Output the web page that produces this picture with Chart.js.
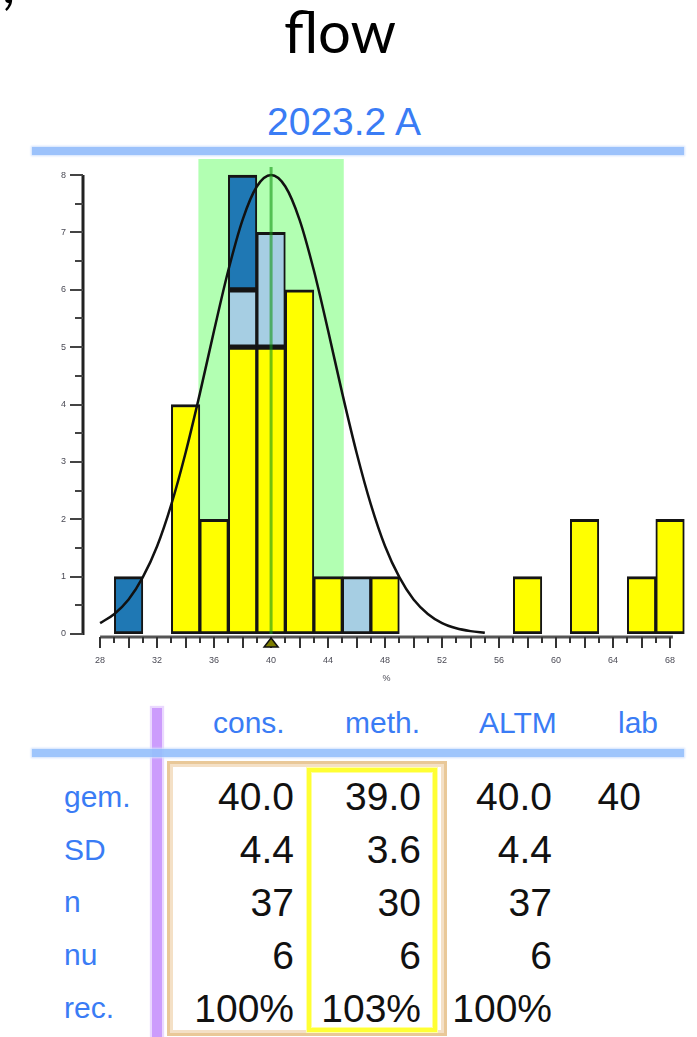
<!DOCTYPE html>
<html>
<head>
<meta charset="utf-8">
<script src="https://cdn.jsdelivr.net/npm/chart.js@4.4.1/dist/chart.umd.min.js"></script>
<style>
  html, body { margin: 0; padding: 0; background: #fff; }
  #page { position: relative; width: 697px; height: 1037px; overflow: hidden; background: #fff;
          font-family: "Liberation Sans", Arial, sans-serif; }
  .t { position: absolute; white-space: nowrap; line-height: 1; }
  .rule { position: absolute; }
  #hist { position: absolute; left: 0; top: 150px; }
</style>
</head>
<body>
<div id="page">
  <div class="rule" style="left:32px;top:147px;width:652px;height:8px;background:#9cc2fb;box-shadow:0 0 2px 1px #cfe0fd;"></div>
  <div class="rule" style="left:152px;top:708px;width:10px;height:329px;background:#cc9cfc;box-shadow:0 0 1px 2px #ead8fe;"></div>
  <div class="rule" style="left:32px;top:749px;width:652px;height:8px;background:rgba(150,192,252,0.92);box-shadow:0 0 2px 1px #cfe0fd;"></div>
  <div class="rule" style="left:167px;top:761px;width:280px;height:275px;box-sizing:border-box;border:3px solid #e9c898;box-shadow:inset 0 0 0 3px #f4e0c6;"></div>
  <div class="rule" style="left:307px;top:768px;width:130px;height:264px;box-sizing:border-box;border:4px solid #ffff33;box-shadow:0 0 0 1px #ffffa8, inset 0 0 0 1px #ffff9c;"></div>
  <canvas id="hist" width="697" height="540"></canvas>
</div>
<script>
// ---- histogram data (bins are 2 % wide, centred on even values) ----
const binCenters      = [30, 34, 36, 38, 40, 42, 44, 46, 48, 58, 62, 66, 68];
const methodCounts    = [0, 4, 2, 5, 5, 6, 1, 0, 1, 1, 2, 1, 2];   // yellow
const otherCounts     = [0, 0, 0, 1, 2, 0, 0, 1, 0, 0, 0, 0, 0];   // light blue
const outlierCounts   = [1, 0, 0, 2, 0, 0, 0, 0, 0, 0, 0, 0, 0];   // dark blue

// ---- fitted normal curve (scaled to the tallest bin) ----
const curveX = [28, 29, 30, 31, 32, 33, 34, 35, 36, 37, 38, 39, 40, 41, 42, 43, 44, 45, 46, 47, 48, 49, 50, 51, 52, 53, 54, 55];
const curveY = [0.19, 0.35, 0.60, 0.99, 1.53, 2.26, 3.16, 4.19, 5.29, 6.34, 7.22, 7.80, 8.00, 7.80, 7.22, 6.34, 5.29, 4.19, 3.16, 2.26, 1.53, 0.99, 0.60, 0.35, 0.19, 0.10, 0.05, 0.02];

// ---- axes ----
const xTickValues = [28, 32, 36, 40, 44, 48, 52, 56, 60, 64, 68];
const yTickValues = [0, 1, 2, 3, 4, 5, 6, 7, 8];

// ---- summary statistics ----
const consensusMean = 40.0;
const labResult = 40;
const bandLow = 34.9;
const bandHigh = 45.1;

// ---- table ----
const colHeaders = ['cons.', 'meth.', 'ALTM', 'lab'];
const rowLabels  = ['gem.', 'SD', 'n', 'nu', 'rec.'];
const consCol    = ['40.0', '4.4', '37', '6', '100%'];
const methCol    = ['39.0', '3.6', '30', '6', '103%'];
const altmCol    = ['40.0', '4.4', '37', '6', '100%'];
const labCol     = ['40', '', '', '', ''];

const BLUE = '#3a7cf5';
const page = document.getElementById('page');

function addText(text, o) {
  const d = document.createElement('div');
  d.className = 't';
  d.textContent = text;
  d.style.fontSize = o.size + 'px';
  d.style.color = o.color || '#111';
  if (o.family) d.style.fontFamily = o.family;
  const ascentRatio = o.ascent || 0.8465;
  d.style.top = (o.baseline - ascentRatio * o.size) + 'px';
  if (o.center !== undefined) {
    d.style.left = '0px'; d.style.width = (2 * o.center) + 'px'; d.style.textAlign = 'center';
  } else if (o.right !== undefined) {
    d.style.right = (697 - o.right) + 'px'; d.style.textAlign = 'right';
  } else {
    d.style.left = o.left + 'px';
  }
  page.appendChild(d);
}

// headings
addText(',', { left: 2, baseline: 3, size: 58, family: 'Lato, "Open Sans", sans-serif', ascent: 0.887, color: '#000' });
addText('flow', { center: 340, baseline: 53, size: 58, family: 'Lato, "Open Sans", sans-serif', ascent: 0.887, color: '#000' });
addText('2023.2 A', { center: 344, baseline: 135, size: 39, color: BLUE });

// table
const headerLefts = [213, 345, 479, 618];
colHeaders.forEach((h, i) => addText(h, { left: headerLefts[i], baseline: 733, size: 30, color: BLUE }));
const labelBaselines = [807, 860, 912, 965, 1018];
const valueBaselines = [810, 863, 916, 969, 1022];
rowLabels.forEach((r, i) => addText(r, { left: 64, baseline: labelBaselines[i], size: 30, color: BLUE }));
const cols = [consCol, methCol, altmCol, labCol];
const colRights = [294, 421, 552, 641];
cols.forEach((col, c) => col.forEach((v, i) => {
  if (v) addText(v, { right: colRights[c], baseline: valueBaselines[i], size: 39, color: '#111' });
}));

// ---- chart ----
const toPoints = (xs, ys) => xs.map((x, i) => ({ x, y: ys[i] === 0 ? null : ys[i] }));

const overlay = {
  id: 'overlay',
  beforeDatasetsDraw(chart) {
    const { ctx, chartArea, scales: { x, y } } = chart;
    ctx.save();
    ctx.fillStyle = '#b2ffb2';
    const x0 = x.getPixelForValue(bandLow), x1 = x.getPixelForValue(bandHigh);
    ctx.fillRect(x0, chartArea.top, x1 - x0, y.getPixelForValue(0) - chartArea.top);
    ctx.restore();
  },
  afterDatasetsDraw(chart) {
    const { ctx, scales: { x, y } } = chart;
    ctx.save();
    // consensus line
    const cx = x.getPixelForValue(consensusMean);
    ctx.strokeStyle = 'rgba(20,150,20,0.6)';
    ctx.lineWidth = 3;
    ctx.beginPath();
    ctx.moveTo(cx, y.getPixelForValue(8.14));
    ctx.lineTo(cx, y.getPixelForValue(0));
    ctx.stroke();

    // y axis line and ticks
    const ax = x.left;
    ctx.strokeStyle = '#222';
    ctx.lineWidth = 3;
    ctx.beginPath();
    ctx.moveTo(ax, y.getPixelForValue(8));
    ctx.lineTo(ax, y.getPixelForValue(0) + 1);
    ctx.stroke();
    ctx.lineWidth = 2;
    ctx.strokeStyle = '#444';
    for (let v = 0; v <= 8; v += 0.5) {
      const py = Math.round(y.getPixelForValue(v));
      const len = Number.isInteger(v) ? 12 : 7;
      ctx.beginPath();
      ctx.moveTo(ax - len - 1, py);
      ctx.lineTo(ax, py);
      ctx.stroke();
    }

    // x axis line and ticks
    const ay = y.getPixelForValue(0) + 3;
    ctx.strokeStyle = '#555';
    ctx.lineWidth = 3;
    ctx.beginPath();
    ctx.moveTo(x.getPixelForValue(xTickValues[0]), ay);
    ctx.lineTo(x.getPixelForValue(68.2), ay);
    ctx.stroke();
    ctx.lineWidth = 2;
    ctx.strokeStyle = '#333';
    for (let v = xTickValues[0]; v <= xTickValues[xTickValues.length - 1]; v++) {
      const px = Math.round(x.getPixelForValue(v));
      const len = v % 2 === 0 ? 11 : 6;
      ctx.beginPath();
      ctx.moveTo(px, ay);
      ctx.lineTo(px, ay + len);
      ctx.stroke();
    }

    // lab result marker
    const tx = x.getPixelForValue(labResult);
    ctx.fillStyle = '#7d7d00';
    ctx.strokeStyle = '#111';
    ctx.lineWidth = 1.5;
    ctx.beginPath();
    ctx.moveTo(tx, ay + 1);
    ctx.lineTo(tx + 7, ay + 10);
    ctx.lineTo(tx - 7, ay + 10);
    ctx.closePath();
    ctx.fill();
    ctx.stroke();
    ctx.restore();
  }
};

const barStyle = {
  borderColor: '#151515',
  borderWidth: { top: 3, bottom: 3, left: 2, right: 2 },
  borderSkipped: false,
  barPercentage: 1,
  categoryPercentage: 1
};

const tickFont = { family: '"Liberation Sans", Arial, sans-serif', size: 9 };

new Chart(document.getElementById('hist'), {
  type: 'bar',
  data: {
    datasets: [
      {
        type: 'line',
        data: toPoints(curveX, curveY),
        borderColor: '#111',
        borderWidth: 2.5,
        pointRadius: 0,
        cubicInterpolationMode: 'monotone',
        fill: false,
        order: -1
      },
      Object.assign({ data: toPoints(binCenters, methodCounts), backgroundColor: '#ffff00' }, barStyle),
      Object.assign({ data: toPoints(binCenters, otherCounts), backgroundColor: '#a6cee3' }, barStyle),
      Object.assign({ data: toPoints(binCenters, outlierCounts), backgroundColor: '#1f78b4' }, barStyle)
    ]
  },
  options: {
    responsive: false,
    animation: false,
    events: [],
    layout: { autoPadding: false, padding: { left: 53, top: 9, right: 7, bottom: 6 } },
    plugins: { legend: { display: false }, tooltip: { enabled: false } },
    scales: {
      x: {
        type: 'linear',
        min: 26.8,
        max: 69.4,
        offset: false,
        stacked: true,
        grid: { display: false, drawTicks: false, offset: false },
        border: { display: false },
        afterBuildTicks: s => { s.ticks = xTickValues.map(v => ({ value: v })); },
        afterFit: s => { s.height = 50; s.paddingLeft = 0; s.paddingRight = 0; },
        ticks: { font: tickFont, color: '#4a4a55', padding: 21, maxRotation: 0, autoSkip: false },
        title: { display: true, text: '%', font: tickFont, color: '#4a4a55', padding: 0 }
      },
      y: {
        min: 0,
        max: 8.28,
        stacked: true,
        grid: { display: false, drawTicks: false },
        border: { display: false },
        afterBuildTicks: s => { s.ticks = yTickValues.map(v => ({ value: v })); },
        afterFit: s => { s.width = 30; s.paddingTop = 0; s.paddingBottom = 0; },
        ticks: { font: tickFont, color: '#4a4a55', padding: 17 }
      }
    }
  },
  plugins: [overlay]
});
</script>
</body>
</html>
